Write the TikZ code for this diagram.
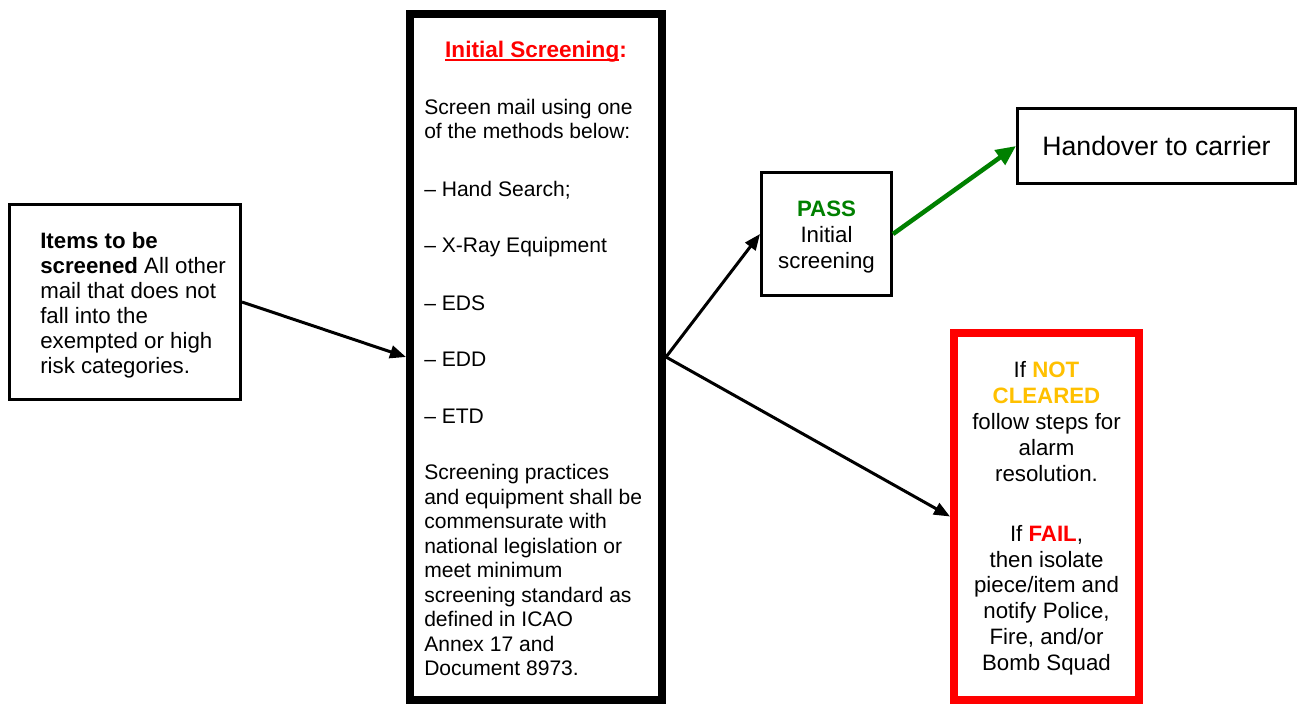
\documentclass[tikz,border=0pt]{standalone}
\usepackage{fontspec}
\setmainfont{Liberation Sans}
\usetikzlibrary{arrows.meta}
\definecolor{myred}{RGB}{255,0,0}
\definecolor{mygreen}{RGB}{0,128,0}
\definecolor{mygold}{RGB}{255,192,0}
\newcommand\myul[1]{\setbox0\hbox{#1}\rlap{\rule[-2.6pt]{\wd0}{1.7pt}}\box0}
\begin{document}
\begin{tikzpicture}[x=0.75pt,y=-0.75pt,
  thinbox/.style={draw=black, line width=2.25pt, inner sep=0pt},
  thickbox/.style={draw=black, line width=6pt, inner sep=0pt},
  txt/.style={inner sep=0pt, font=\fontsize{15.8}{19}\selectfont},
  btxt/.style={inner sep=0pt, font=\fontsize{16.7}{20}\selectfont},
  ltxt/.style={txt, anchor=base west},
  lbtxt/.style={btxt, anchor=base west},
  ctxt/.style={btxt, anchor=base},
  arr/.style={line width=2.25pt, -{Triangle[length=12pt,width=9.5pt]}},
  garr/.style={draw=mygreen, line width=3.4pt, -{Triangle[length=15pt,width=13pt]}}
]
\useasboundingbox (0,0) rectangle (1298,706);

% boxes
\node[thinbox, minimum width=173.25pt, minimum height=146.25pt] (items) at (125,302) {};
\node[thickbox, minimum width=189pt, minimum height=514.5pt] (screen) at (536,357) {};
\node[thinbox, minimum width=97.5pt, minimum height=92.25pt] (pass) at (826.5,234) {};
\node[thinbox, minimum width=208.5pt, minimum height=56.25pt, font=\fontsize{20}{24}\selectfont] (hand) at (1156.5,146) {Handover to carrier};
\node[thickbox, draw=myred, minimum width=138.75pt, minimum height=275.25pt] (fail) at (1046.5,516.5) {};

% items text
\node[lbtxt] (i1) at (40,248) {\textbf{Items to be}};
\node[lbtxt] (i2) at (40,273) {\textbf{screened} All other};
\node[lbtxt] (i3) at (40,298) {mail that does not};
\node[lbtxt] (i4) at (40,323) {fall into the};
\node[lbtxt] (i5) at (40,348) {exempted or high};
\node[lbtxt] (i6) at (40,373) {risk categories.};

% screening text
\node[ctxt, font=\fontsize{16.9}{20}\selectfont] (s0) at (536,58) {\textcolor{myred}{\textbf{\myul{Initial Screening}:}}};
\node[ltxt] (s1) at (424,115) {Screen mail using one};
\node[ltxt] (s2) at (424,139) {of the methods below:};
\node[ltxt] (s3) at (424,196) {– Hand Search;};
\node[ltxt] (s4) at (424,252) {– X-Ray Equipment};
\node[ltxt] (s5) at (424,310) {– EDS};
\node[ltxt] (s6) at (424,366) {– EDD};
\node[ltxt] (s7) at (424,423) {– ETD};
\node[ltxt] (s8) at (424,479.5) {Screening practices};
\node[ltxt] (s9) at (424,504) {and equipment shall be};
\node[ltxt] (s10) at (424,528.5) {commensurate with};
\node[ltxt] (s11) at (424,553) {national legislation or};
\node[ltxt] (s12) at (424,577.5) {meet minimum};
\node[ltxt] (s13) at (424,602) {screening standard as};
\node[ltxt] (s14) at (424,626.5) {defined in ICAO};
\node[ltxt] (s15) at (424,651) {Annex 17 and};
\node[ltxt] (s16) at (424,675.5) {Document 8973.};

% pass text
\node[ctxt] (p1) at (826.5,216) {\textcolor{mygreen}{\textbf{PASS}}};
\node[ctxt] (p2) at (826.5,242.5) {Initial};
\node[ctxt] (p3) at (826.5,268) {screening};

% fail text
\node[ctxt] (f1) at (1046.5,377.5) {If \textcolor{mygold}{\textbf{NOT}}};
\node[ctxt] (f2) at (1046.5,403.4) {\textcolor{mygold}{\textbf{CLEARED}}};
\node[ctxt] (f3) at (1046.5,429.3) {follow steps for};
\node[ctxt] (f4) at (1046.5,455.2) {alarm};
\node[ctxt] (f5) at (1046.5,481.1) {resolution.};
\node[ctxt] (f6) at (1046.5,541.5) {If \textcolor{myred}{\textbf{FAIL}},};
\node[ctxt] (f7) at (1046.5,567.2) {then isolate};
\node[ctxt] (f8) at (1046.5,592.9) {piece/item and};
\node[ctxt] (f9) at (1046.5,618.6) {notify Police,};
\node[ctxt] (f10) at (1046.5,644.3) {Fire, and/or};
\node[ctxt] (f11) at (1046.5,670) {Bomb Squad};

% connectors
\draw[arr] (items.east) -- (screen.west);
\draw[arr] (screen.east) -- (pass.west);
\draw[arr] (screen.east) -- (fail.west);
\draw[garr] (pass.east) -- (hand.west);
\end{tikzpicture}
\end{document}
